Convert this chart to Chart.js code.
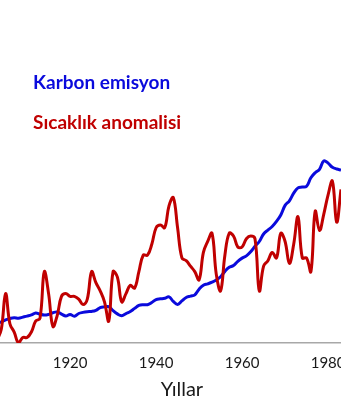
<!DOCTYPE html>
<html>
<head>
<meta charset="utf-8">
<script src="https://cdn.jsdelivr.net/npm/chart.js@4"></script>
<style>
  body { margin: 0; background: #fff; }
  #wrap { width: 341px; height: 400px; overflow: hidden; position: relative; }
  #grafik { display: block; }
</style>
</head>
<body>
<div id="wrap">
  <canvas id="grafik" width="364" height="400"></canvas>
</div>
<script>
// yillar ve seriler
var yillar = [
  1903, 1904, 1905, 1906, 1907, 1908, 1909, 1910, 1911, 1912,
  1913, 1914, 1915, 1916, 1917, 1918, 1919, 1920, 1921, 1922,
  1923, 1924, 1925, 1926, 1927, 1928, 1929, 1930, 1931, 1932,
  1933, 1934, 1935, 1936, 1937, 1938, 1939, 1940, 1941, 1942,
  1943, 1944, 1945, 1946, 1947, 1948, 1949, 1950, 1951, 1952,
  1953, 1954, 1955, 1956, 1957, 1958, 1959, 1960, 1961, 1962,
  1963, 1964, 1965, 1966, 1967, 1968, 1969, 1970, 1971, 1972,
  1973, 1974, 1975, 1976, 1977, 1978, 1979, 1980, 1981, 1982,
  1983
];

// karbon emisyonu (milyon ton C)
var karbon = [
  570, 614, 673, 716, 737, 725, 754, 784, 819, 877,
  842, 813, 833, 883, 906, 842, 789, 833, 781, 860,
  892, 912, 921, 953, 1032, 1053, 1061, 942, 848, 798,
  857, 918, 1009, 1094, 1117, 1117, 1181, 1266, 1287, 1304,
  1345, 1213, 1126, 1228, 1328, 1366, 1404, 1570, 1684, 1725,
  1772, 1836, 1930, 2088, 2205, 2257, 2383, 2474, 2541, 2661,
  2822, 2959, 3178, 3292, 3395, 3547, 3734, 4012, 4146, 4368,
  4523, 4547, 4570, 4819, 4965, 5064, 5310, 5243, 5123, 5073,
  5044
];

// sicaklik anomalisi (°C)
var sicaklik = [
  -0.54, -0.50, -0.37, -0.48, -0.51, -0.55, -0.53, -0.53, -0.51, -0.47,
  -0.46, -0.29, -0.37, -0.49, -0.45, -0.38, -0.37, -0.38, -0.38, -0.39,
  -0.41, -0.39, -0.29, -0.33, -0.36, -0.40, -0.47, -0.29, -0.31, -0.40,
  -0.37, -0.34, -0.35, -0.29, -0.23, -0.23, -0.19, -0.13, -0.12, -0.13,
  -0.05, -0.02, -0.13, -0.24, -0.25, -0.27, -0.29, -0.32, -0.22, -0.18,
  -0.15, -0.30, -0.36, -0.23, -0.15, -0.16, -0.20, -0.20, -0.17, -0.16,
  -0.17, -0.36, -0.27, -0.25, -0.22, -0.24, -0.15, -0.18, -0.26, -0.19,
  -0.09, -0.24, -0.24, -0.29, -0.07, -0.14, -0.08, -0.01, 0.04, -0.11,
  0.01
];

var xEtiketleri = [1920, 1940, 1960, 1980];
var seriAdlari = ['Karbon emisyon', 'Sıcaklık anomalisi'];
var eksenAdi = 'Yıllar';

function noktalar(degerler) {
  return yillar.map(function (y, i) { return { x: y, y: degerler[i] }; });
}

// seri adlarini grafigin sol ustune yaz
var seriYazilari = {
  id: 'seriYazilari',
  afterDraw: function (chart) {
    var ctx = chart.ctx;
    ctx.save();
    ctx.font = 'bold 19px Lato';
    ctx.textAlign = 'left';
    ctx.textBaseline = 'alphabetic';
    chart.data.datasets.forEach(function (ds, i) {
      ctx.fillStyle = ds.borderColor;
      ctx.fillText(ds.label, 33, 89 + i * 40);
    });
    ctx.restore();
  }
};

var ctx = document.getElementById('grafik').getContext('2d');
var chart = new Chart(ctx, {
  type: 'line',
  data: {
    datasets: [{
      label: seriAdlari[0],
      data: noktalar(karbon),
      yAxisID: 'y',
      borderColor: '#0a0adc',
      borderWidth: 3,
      pointRadius: 0,
      tension: 0.4,
      order: 1
    }, {
      label: seriAdlari[1],
      data: noktalar(sicaklik),
      yAxisID: 'y1',
      borderColor: '#c00000',
      borderWidth: 3,
      pointRadius: 0,
      tension: 0.4,
      order: 0
    }]
  },
  options: {
    responsive: false,
    animation: false,
    devicePixelRatio: 1,
    layout: { padding: 0 },
    plugins: {
      legend: { display: false },
      tooltip: { enabled: false }
    },
    scales: {
      x: {
        type: 'linear',
        min: 1903.7,
        max: 1988.35,
        afterBuildTicks: function (scale) {
          scale.ticks = xEtiketleri.map(function (v) { return { value: v }; });
        },
        grid: { display: false, drawTicks: false },
        border: { display: true, color: '#a8a8a8', width: 1.5 },
        ticks: {
          padding: 11,
          color: '#1a1a1a',
          font: { family: 'Lato', size: 15 },
          maxRotation: 0,
          autoSkip: false,
          callback: function (v) { return String(v); }
        },
        title: {
          display: true,
          text: eksenAdi,
          color: '#1a1a1a',
          font: { family: 'Lato', size: 20 },
          padding: { top: -5, bottom: -2 }
        }
      },
      y: { display: false, min: 0, max: 10000 },
      y1: { display: false, min: -0.55, max: 0.7 }
    }
  },
  plugins: [seriYazilari]
});
</script>
</body>
</html>
